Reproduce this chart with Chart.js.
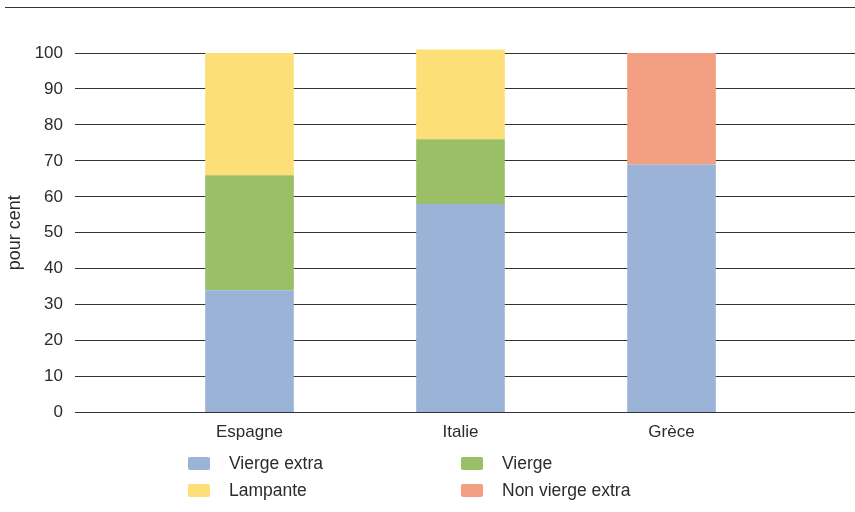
<!DOCTYPE html>
<html>
<head>
<meta charset="utf-8">
<script src="https://cdn.jsdelivr.net/npm/chart.js@4"></script>
<style>
  html, body { margin: 0; padding: 0; background: #fff; }
  body { width: 855px; height: 512px; position: relative; overflow: hidden; font-family: "Liberation Sans", Arial, sans-serif; }
  #topline { position: absolute; left: 5px; top: 7px; width: 850px; height: 1px; background: #333; }
  #wrap { position: absolute; left: 0; top: 0; width: 855px; height: 461px; }
  #legend { position: absolute; left: 0; top: 0; width: 855px; }
  .item { position: absolute; display: flex; align-items: center; font-size: 17.5px; color: #2b2b2b; height: 20px; }
  .box { width: 22px; height: 13px; border-radius: 2px; margin-right: 19px; }
</style>
</head>
<body>
<div id="topline"></div>
<div id="wrap"><canvas id="chart"></canvas></div>
<div id="legend"></div>
<script>
// data (per cent)
const countries = ['Espagne', 'Italie', 'Grèce'];
const viergeExtra = [34, 58, 69];
const vierge = [32, 18, null];
const lampante = [34, 25, null];
const nonViergeExtra = [null, null, 31];
const yTicks = [0, 10, 20, 30, 40, 50, 60, 70, 80, 90, 100];

const seriesNames = ['Vierge extra', 'Vierge', 'Lampante', 'Non vierge extra'];
const seriesColors = ['#9ab3d7', '#9bbf67', '#fcdf76', '#f19f80'];
const seriesData = [viergeExtra, vierge, lampante, nonViergeExtra];

const FONT = '"Liberation Sans", Arial, sans-serif';
const INK = '#2b2b2b';
const GRID = '#333';

const datasets = seriesNames.map((name, i) => ({
  label: name,
  data: seriesData[i],
  backgroundColor: seriesColors[i],
  borderWidth: 0,
  stack: 's',
  clip: false,
  categoryPercentage: 1,
  barPercentage: 0.42
}));

new Chart(document.getElementById('chart').getContext('2d'), {
  type: 'bar',
  data: { labels: countries, datasets },
  options: {
    responsive: true, maintainAspectRatio: false, animation: false,
    layout: { padding: { top: 53, bottom: 8, left: 0, right: 0 } },
    plugins: { legend: { display: false }, tooltip: { enabled: false } },
    scales: {
      x: {
        stacked: true,
        grid: { display: false, drawTicks: false },
        border: { display: true, color: GRID, width: 1 },
        ticks: { color: INK, font: { family: FONT, size: 17 }, padding: 10 }
      },
      y: {
        stacked: true, min: 0, max: 100,
        afterBuildTicks: (s) => { s.ticks = yTicks.map(v => ({ value: v })); },
        afterFit: (s) => { s.width = 144; },
        grid: { color: GRID, lineWidth: 1, tickLength: 69, tickColor: GRID },
        border: { display: false },
        ticks: { color: INK, font: { family: FONT, size: 17 }, padding: 12 },
        title: { display: true, text: 'pour cent', color: INK, font: { family: FONT, size: 18 }, padding: { top: 4, bottom: 0 } }
      },
      y2: {
        position: 'right', min: 0, max: 100,
        afterBuildTicks: (s) => { s.ticks = yTicks.map(v => ({ value: v })); },
        grid: { drawOnChartArea: false, color: GRID, lineWidth: 1, tickLength: 78, tickColor: GRID },
        border: { display: false },
        ticks: { display: false }
      }
    }
  }
});

// legend, two columns
const legendPos = [[188, 453], [461, 453], [188, 480], [461, 480]];
const legend = document.getElementById('legend');
seriesNames.forEach((name, i) => {
  const it = document.createElement('div');
  it.className = 'item';
  it.style.left = legendPos[i][0] + 'px';
  it.style.top = legendPos[i][1] + 'px';
  it.innerHTML = `<span class="box" style="background:${seriesColors[i]}"></span><span>${name}</span>`;
  legend.appendChild(it);
});
</script>
</body>
</html>
